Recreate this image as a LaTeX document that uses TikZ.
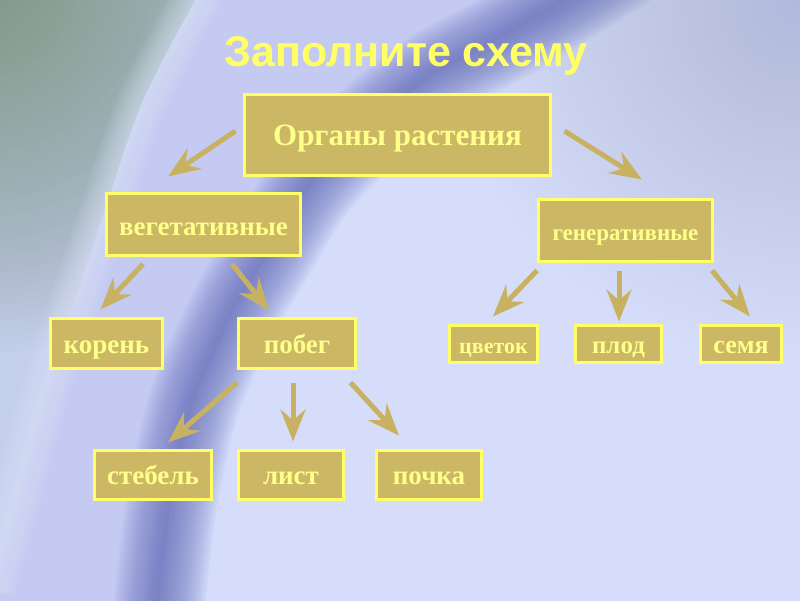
\documentclass[tikz,border=0pt]{standalone}
\usepackage{fontspec}
\setmainfont{Liberation Serif}
\newfontfamily\titlefont{Liberation Sans}
\usetikzlibrary{arrows.meta,calc}
\definecolor{bgc}{RGB}{213,221,251}
\definecolor{midc}{RGB}{196,202,242}
\definecolor{bandc}{RGB}{104,112,188}
\definecolor{tintc}{RGB}{160,166,222}
\definecolor{cornerbase}{RGB}{196,207,236}
\definecolor{cornerc}{RGB}{112,146,112}
\definecolor{lightc}{RGB}{228,235,255}
\definecolor{boxfill}{RGB}{204,184,100}
\definecolor{boxline}{RGB}{255,255,102}
\definecolor{arrowc}{RGB}{200,178,98}
\definecolor{textc}{RGB}{255,255,140}
\definecolor{titlec}{RGB}{255,255,102}
\newcommand\fsz[1]{\fontsize{#1}{#1}\selectfont\bfseries}
\begin{document}
\begin{tikzpicture}[x=1pt,y=-1pt,
  organ/.style={draw=boxline, line width=3pt, fill=boxfill, text=textc, inner sep=0pt, text depth=3pt},
  link/.style={color=arrowc, line width=5pt, -{Stealth[length=32pt,width=25pt,inset=11pt]}}]
\useasboundingbox (0,0) rectangle (800,600);
% ---------- background ----------
\begin{scope}
\clip (0,0) rectangle (800,600);
\fill[bgc] (-10,-10) rectangle (810,610);
\foreach \r in {360,350,...,10} \fill[tintc, opacity=0.013] (800,0) circle (\r);
\fill[midc] (-100,-100) -- (660,-100) -- plot[smooth] coordinates {(660,-60) (567,0) (490,45) (427,80) (360,135) (310,187) (262,265) (235,310) (195,400) (172,500) (160,600) (155,680)} -- (155,700) -- (-100,700) -- cycle;
\begin{scope}
  \clip (-100,-100) -- (230,-100) -- plot[smooth] coordinates {(230,-60) (195,0) (143,100) (108,200) (75,300) (42,400) (15,500) (-10,590)} -- (-10,700) -- (-100,700) -- cycle;
  \fill[cornerbase] (-100,-100) rectangle (300,700);
  \foreach \r in {384,376,...,8} \fill[cornerc, opacity=0.022] (-30,-30) circle (\r);
\end{scope}
\foreach \w in {50,45,...,5} \draw[lightc, opacity=0.07, line width=\w] plot[smooth] coordinates {(230,-60) (195,0) (143,100) (108,200) (75,300) (42,400) (15,500) (-10,590)};
\foreach \w in {92,89,...,5} \draw[bandc, opacity=0.04, line width=\w] plot[smooth] coordinates {(660,-60) (567,0) (490,45) (427,80) (360,135) (310,187) (262,265) (235,310) (195,400) (172,500) (160,600) (155,680)};
\end{scope}
% ---------- title ----------
\node[anchor=base, text=titlec, font=\titlefont\fontsize{43}{43}\selectfont\bfseries, inner sep=0pt] (title) at (406,66) {Заполните схему};
% ---------- boxes ----------
\node[organ, minimum width=306pt, minimum height=81pt, text height=23pt, font=\fsz{31}] (root) at (397.5,135) {Органы растения};
\node[organ, minimum width=194pt, minimum height=62pt, text height=24pt, font=\fsz{27}] (veg) at (203.5,224.5) {вегетативные};
\node[organ, minimum width=174pt, minimum height=62pt, text height=22pt, font=\fsz{23}] (gen) at (625.5,230.5) {генеративные};
\node[organ, minimum width=112pt, minimum height=50pt, text height=22pt, font=\fsz{27}] (koren) at (106.5,343.5) {корень};
\node[organ, minimum width=117pt, minimum height=50pt, text height=22pt, font=\fsz{27}] (pobeg) at (297,343.5) {побег};
\node[organ, minimum width=88pt, minimum height=37pt, text height=21pt, font=\fsz{22}] (cvetok) at (493.5,344) {цветок};
\node[organ, minimum width=86pt, minimum height=37pt, text height=21pt, font=\fsz{25}] (plod) at (618.5,344) {плод};
\node[organ, minimum width=81pt, minimum height=37pt, text height=21pt, font=\fsz{26}] (semya) at (741,344) {семя};
\node[organ, minimum width=117pt, minimum height=49pt, text height=21pt, font=\fsz{27}] (stebel) at (153,475) {стебель};
\node[organ, minimum width=105pt, minimum height=49pt, text height=21pt, font=\fsz{27}] (list) at (291,475) {лист};
\node[organ, minimum width=105pt, minimum height=49pt, text height=21pt, font=\fsz{27}] (pochka) at (429,475) {почка};
% ---------- arrows ----------
\draw[link] ($(root.west)+(-7.5,-4)$) -- ($(veg.north)+(-35.5,-15.5)$);
\draw[link] ($(root.east)+(12.5,-4)$) -- ($(gen.north)+(16.5,-18.5)$);
\draw[link] ($(veg.south)+(-60.5,7)$) -- ($(koren.north)+(-6,-7.5)$);
\draw[link] ($(veg.south)+(28.5,7)$) -- ($(pobeg.north)+(-28,-6.5)$);
\draw[link] ($(pobeg.south)+(-60,12.5)$) -- ($(stebel.north)+(15,-6.5)$);
\draw[link] ($(pobeg.south)+(-4,12.5)$) -- ($(list.north)+(2,-7.5)$);
\draw[link] ($(pobeg.south)+(53.5,12.5)$) -- ($(pochka.north)+(-30,-13.5)$);
\draw[link] ($(gen.south)+(-88.5,7.5)$) -- ($(cvetok.north)+(-0.5,-7.5)$);
\draw[link] ($(gen.south)+(-6.5,7.5)$) -- ($(plod.north)+(0.5,-2.5)$);
\draw[link] ($(gen.south)+(86.5,7.5)$) -- ($(semya.north)+(9,-7.5)$);
\end{tikzpicture}
\end{document}
